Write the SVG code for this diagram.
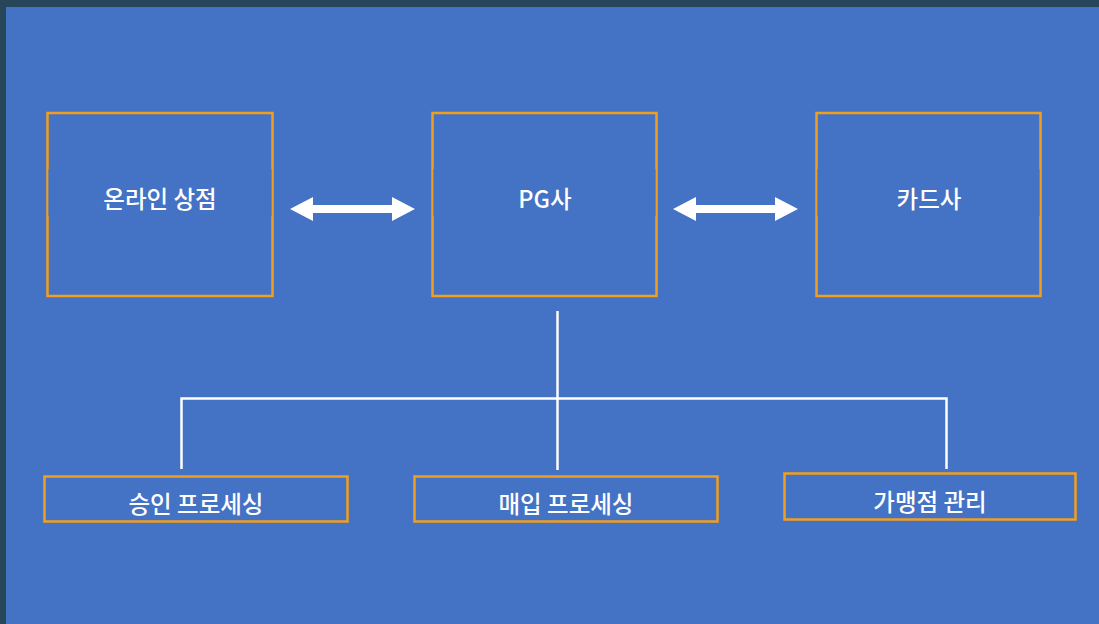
<svg xmlns="http://www.w3.org/2000/svg" width="1099" height="624" viewBox="0 0 1099 624">
<style>
.box{fill:none;stroke:#F29F1E;stroke-width:2.5}
.band{fill:#4472C4}
.lbl{font-family:"Noto Sans CJK KR","Noto Sans",sans-serif;font-size:23.5px;font-weight:500;fill:#ffffff;text-anchor:middle;dominant-baseline:central}
.ln{stroke:#ffffff;stroke-width:2.5;fill:none}
.arr{fill:#ffffff}
</style>
<rect x="0" y="0" width="1099" height="624" fill="#28465A"/>
<rect x="6" y="7" width="1093" height="617" fill="#4472C4"/>
<g id="node-online">
<rect class="box" x="47.5" y="113" width="225" height="183"/>
<rect class="band" x="48.5" y="169" width="223" height="47"/>
<text class="lbl" x="160" y="198">온라인 상점</text>
</g>
<g id="node-pg">
<rect class="box" x="432.5" y="113" width="224" height="183"/>
<rect class="band" x="433.5" y="169" width="222" height="47"/>
<text class="lbl" x="545" y="198">PG사</text>
</g>
<g id="node-card">
<rect class="box" x="816.5" y="113" width="224" height="183"/>
<rect class="band" x="817.5" y="169" width="222" height="47"/>
<text class="lbl" x="929" y="198">카드사</text>
</g>
<g id="node-approve">
<rect class="box" x="44.5" y="476.5" width="303" height="45"/>
<text class="lbl" x="196" y="503">승인 프로세싱</text>
</g>
<g id="node-purchase">
<rect class="box" x="414.5" y="476.5" width="303" height="45"/>
<text class="lbl" x="566" y="503">매입 프로세싱</text>
</g>
<g id="node-merchant">
<rect class="box" x="784.5" y="473.5" width="291" height="46"/>
<text class="lbl" x="930" y="501">가맹점 관리</text>
</g>
<g id="connectors">
<polygon class="arr" points="290,209 313,197 313,205 392,205 392,197 415,209 392,221 392,213 313,213 313,221"/>
<polygon class="arr" points="673,209 696,197 696,205 775,205 775,197 798,209 775,221 775,213 696,213 696,221"/>
<line class="ln" x1="557.5" y1="311" x2="557.5" y2="470"/>
<polyline class="ln" points="181.5,469 181.5,398.5 946.5,398.5 946.5,469"/>
</g>
</svg>
